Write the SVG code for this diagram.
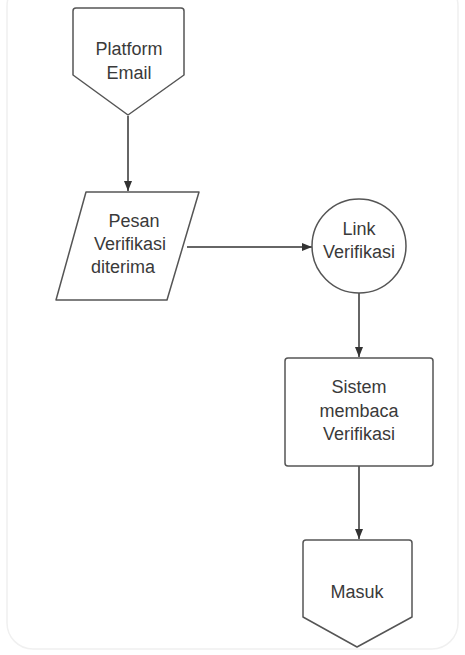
<svg xmlns="http://www.w3.org/2000/svg" width="465" height="655" viewBox="0 0 465 655">
<style>
.shape{fill:#ffffff;stroke:#555555;stroke-width:1.5;stroke-linejoin:round}
.lbl{font-family:"Liberation Sans",Arial,sans-serif;font-size:18px;fill:#3a3a3a;text-anchor:middle}
.conn{stroke:#333333;stroke-width:1.5;fill:none}
</style>
<defs>
<marker id="arr" viewBox="0 0 10 10" refX="10" refY="5" markerWidth="10" markerHeight="10" orient="auto" markerUnits="userSpaceOnUse">
<path d="M0,1 L10,5 L0,9 z" fill="#333333"/>
</marker>
</defs>
<rect x="0" y="0" width="465" height="655" fill="#ffffff"/>
<rect x="7" y="-20" width="451" height="669" rx="26" fill="#ffffff" stroke="#f0f0f0" stroke-width="1.5"/>
<g id="connectors">
<line class="conn" x1="128" y1="116" x2="128" y2="191" marker-end="url(#arr)"/>
<line class="conn" x1="187" y1="247" x2="312" y2="247" marker-end="url(#arr)"/>
<line class="conn" x1="359" y1="293" x2="359" y2="357" marker-end="url(#arr)"/>
<line class="conn" x1="359" y1="466" x2="359" y2="539" marker-end="url(#arr)"/>
</g>
<g id="platform-email">
<path class="shape" d="M76,8 L181,8 Q184,8 184,11 L184,75 L128,115 L73,75 L73,11 Q73,8 76,8 Z"/>
<text class="lbl" x="129" y="55">Platform</text>
<text class="lbl" x="129" y="79">Email</text>
</g>
<g id="pesan-verifikasi">
<path class="shape" d="M86,192 L199,192 L167,300 L56,300 Z"/>
<text class="lbl" x="134" y="227">Pesan</text>
<text class="lbl" x="130" y="250">Verifikasi</text>
<text class="lbl" x="123" y="273">diterima</text>
</g>
<g id="link-verifikasi">
<circle class="shape" cx="359" cy="246" r="47"/>
<text class="lbl" x="359" y="235">Link</text>
<text class="lbl" x="359" y="258">Verifikasi</text>
</g>
<g id="sistem-membaca">
<rect class="shape" x="285" y="358" width="148" height="108" rx="3"/>
<text class="lbl" x="359" y="393">Sistem</text>
<text class="lbl" x="359" y="417">membaca</text>
<text class="lbl" x="359" y="440">Verifikasi</text>
</g>
<g id="masuk">
<path class="shape" d="M306,540 L409,540 Q412,540 412,543 L412,617 L357,647 L303,617 L303,543 Q303,540 306,540 Z"/>
<text class="lbl" x="357" y="598">Masuk</text>
</g>
</svg>
